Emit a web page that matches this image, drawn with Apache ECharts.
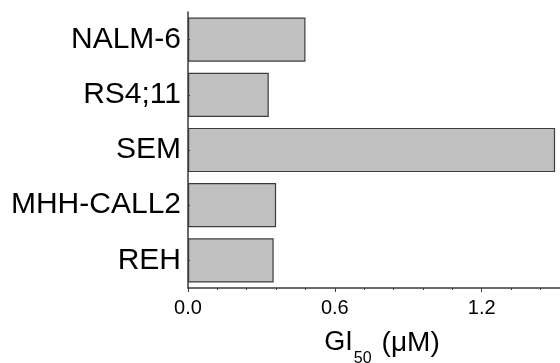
<!DOCTYPE html>
<html>
<head>
<meta charset="utf-8">
<script src="https://cdn.jsdelivr.net/npm/echarts@6/dist/echarts.min.js"></script>
<style>
  html, body { margin: 0; padding: 0; background: #fff; }
  #chart { width: 560px; height: 363px; }
</style>
</head>
<body>
<div id="chart"></div>
<script>
// Cell lines, listed top to bottom
const categories = ['NALM-6', 'RS4;11', 'SEM', 'MHH-CALL2', 'REH'];
// GI50 values in µM
const gi50 = [0.48, 0.33, 1.50, 0.36, 0.35];
// Axis ticks
const majorTicks = [0, 0.6, 1.2];
const minorTicks = [0.12, 0.24, 0.36, 0.48, 0.72, 0.84, 0.96, 1.08, 1.32, 1.44];
const tickLabels = ['0.0', '0.6', '1.2'];
const xMax = 1.52;

const axisColor = '#3a3a3a';
const font = '"Liberation Sans", Arial, sans-serif';

const chart = echarts.init(document.getElementById('chart'), null, { renderer: 'canvas' });

chart.setOption({
  animation: false,
  backgroundColor: '#fff',
  grid: { left: 188, right: 0, top: 12, bottom: 75, containLabel: false, outerBoundsMode: 'none' },
  xAxis: [
    {
      type: 'value', min: 0, max: xMax, position: 'bottom',
      axisLine: { show: true, lineStyle: { color: axisColor, width: 1.5 } },
      axisTick: { show: true, customValues: minorTicks, length: 2, lineStyle: { color: axisColor, width: 1 } },
      axisLabel: { show: false },
      splitLine: { show: false }
    },
    {
      type: 'value', min: 0, max: xMax, position: 'bottom',
      axisLine: { show: false },
      axisTick: { show: true, customValues: majorTicks, length: 4, lineStyle: { color: axisColor, width: 1 } },
      axisLabel: {
        customValues: majorTicks,
        formatter: v => tickLabels[majorTicks.indexOf(v)] ?? '',
        color: '#000', fontSize: 20, fontFamily: font, margin: 10
      },
      splitLine: { show: false },
      name: '{a|GI}{s|50}{b|(μM)}',
      nameLocation: 'middle',
      nameGap: 41,
      nameTextStyle: {
        padding: [0, 0, 0, 16],
        rich: {
          a: { fontSize: 27, fontFamily: font, color: '#000', lineHeight: 30, verticalAlign: 'top' },
          b: { fontSize: 28, fontFamily: font, color: '#000', lineHeight: 30, verticalAlign: 'top', padding: [0, 0, 0, 10] },
          s: { fontSize: 16, fontFamily: font, color: '#000', lineHeight: 14, padding: [22, 0, 0, 1], verticalAlign: 'top' }
        }
      }
    }
  ],
  yAxis: {
    type: 'category',
    data: categories,
    inverse: true,
    z: 5,
    axisLine: { show: true, lineStyle: { color: axisColor, width: 1.5 } },
    axisTick: { show: true, inside: true, alignWithLabel: true, length: 2, lineStyle: { color: axisColor } },
    axisLabel: { color: '#000', fontSize: 30, fontFamily: font, margin: 7 },
    splitLine: { show: false }
  },
  series: [{
    type: 'bar',
    xAxisIndex: 0,
    data: gi50,
    barCategoryGap: '20%',
    itemStyle: { color: '#c0c0c0', borderColor: '#3c3c3c', borderWidth: 1.2 }
  }]
});
</script>
</body>
</html>
